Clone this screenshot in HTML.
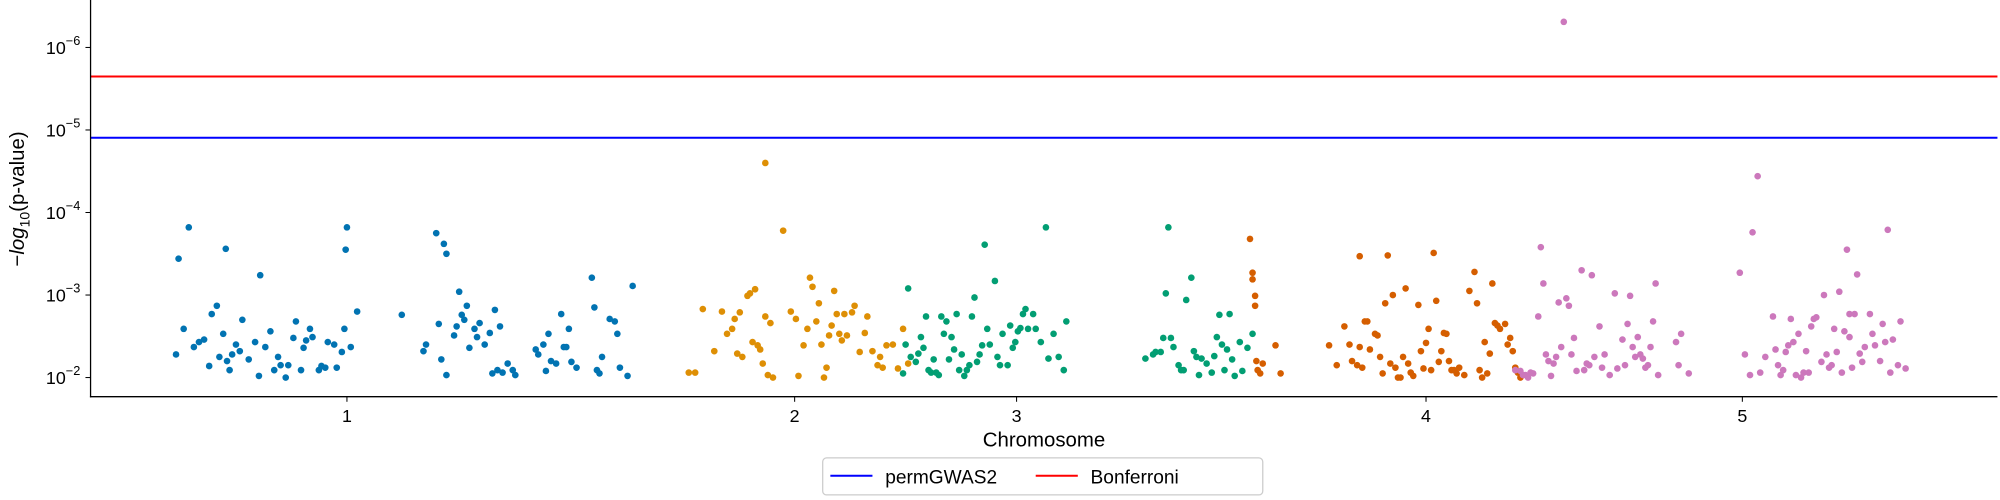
<!DOCTYPE html>
<html><head><meta charset="utf-8"><style>
html,body{margin:0;padding:0;background:#fff;width:2000px;height:500px;overflow:hidden}
svg{font-family:"Liberation Sans","DejaVu Sans",sans-serif;display:block}
</style></head><body>
<svg id="chart" width="2000" height="500" viewBox="0 0 1568 392" preserveAspectRatio="none" xmlns="http://www.w3.org/2000/svg"></svg>
<script>
const chrTickLabels=["1","2","3","4","5"];
const chrTickPos=[201,552,726,1047,1295];
const yTickExps=[2,3,4,5,6];
const thresholdNames=["permGWAS2","Bonferroni"];
const thresholdValues=[4.906,5.648];
const thresholdColors=["#0000ff","#ff0000"];
const chrColors=["#0173b2","#de8f05","#029e73","#d55e00","#cc78bc"];
const chr1Pos=[77,106,201,200,133,209,95,119,161,69,67,73,81,85,89,99,104,107,109,111,114,117,124,129,132,137,141,144,147,149,153,155,159,165,167,169,172,174,179,181,184,186,191,193,197,199,204,93,101,244,261,263,271,277,279,273,275,279,285,287,289,291,293,295,297,301,303,305,309,313,317,321,315,319,323,327,331,333,349,351,355,357,359,361,365,369,371,373,375,377,381,393,395,397,399,401,407,411,413,415,421,425];
const chr1Val=[3.82,3.56,3.82,3.55,3.24,2.80,2.77,2.70,2.68,3.44,2.28,2.59,2.37,2.43,2.46,2.87,2.53,2.20,2.09,2.28,2.40,2.32,2.22,2.43,2.02,2.37,2.56,2.09,2.25,2.15,2.00,2.15,2.48,2.09,2.36,2.45,2.59,2.49,2.09,2.14,2.12,2.43,2.40,2.12,2.31,2.59,2.37,2.14,2.25,2.76,2.32,2.40,3.75,3.62,3.50,2.65,2.22,2.03,2.51,2.62,3.04,2.76,2.70,2.87,2.36,2.59,2.49,2.66,2.40,2.54,2.82,2.62,2.05,2.09,2.06,2.17,2.09,2.03,2.34,2.28,2.40,2.08,2.53,2.20,2.17,2.77,2.37,2.37,2.59,2.19,2.12,3.21,2.85,2.09,2.05,2.25,2.71,2.68,2.53,2.12,2.02,3.11];
const chr2Pos=[469,474,480,489,495,499,503,505,507,509,511,515,517,519,521,523,525,527,529,529,531,533,535,543,549,553,555,559,562,564,566,569,571,573,575,577,579,581,583,585,587,589,591,593,597,599,603,607,609,613,617,619,621,624,629,633,637,641];
const chr2Val=[2.06,2.06,2.83,2.32,2.80,2.53,2.59,2.71,2.29,2.79,2.25,2.99,3.02,2.43,3.07,2.39,2.34,2.17,2.74,4.60,2.03,2.66,2.00,3.78,2.80,2.71,2.02,2.39,2.59,3.21,3.10,2.68,2.90,2.40,2.00,2.12,2.51,2.63,3.05,2.77,2.53,2.45,2.77,2.51,2.79,2.87,2.31,2.54,2.74,2.32,2.15,2.25,2.12,2.39,2.40,2.11,2.59,2.17];
const chr3Pos=[637,639,641,643,647,649,651,653,655,657,659,661,663,665,667,669,671,673,675,677,679,681,683,685,687,689,691,693,695,697,699,701,703,705,709,711,713,715,719,721,723,725,727,729,731,733,735,739,741,745,749,751,755,759,763,765,827,833,835,839,841,843,845,847,849,853,855,857,859,863,865,867,869,871,875,879,881,883,885,887,889,891,893,895,897,901,903,907,911];
const chr3Val=[2.05,2.40,3.08,2.25,2.19,2.29,2.49,2.36,2.74,2.09,2.06,2.22,2.06,2.03,2.74,2.53,2.68,2.22,2.49,2.34,2.77,2.09,2.28,2.02,2.09,2.15,2.74,2.97,2.19,2.28,2.39,3.61,2.59,2.40,3.17,2.25,2.15,2.53,2.15,2.63,2.36,2.43,2.56,2.60,2.77,2.83,2.59,2.77,2.59,2.43,3.82,2.23,2.53,2.25,2.09,2.68,2.23,2.28,2.31,2.31,2.48,3.02,3.82,2.48,2.37,2.15,2.09,2.09,2.94,3.21,2.32,2.25,2.03,2.23,2.17,2.06,2.26,2.49,2.76,2.40,2.09,2.34,2.77,2.22,2.02,2.43,2.08,2.36,2.53];
const chr4Pos=[909,911,911,913,913,914,915,917,919,929,933,971,977,983,987,989,993,995,995,997,999,1001,1003,1007,1009,1011,1013,1015,1017,1019,1021,1023,1025,1027,1029,1031,1033,1035,1037,1041,1043,1045,1047,1049,1051,1053,1055,1057,1059,1061,1063,1065,1067,1069,1071,1073,1077,1081,1085,1087,1089,1091,1093,1095,1097,1099,1101,1103,1105,1109,1111,1113,1115,1117,1119,1121];
const chr4Val=[3.68,3.27,3.19,2.99,2.87,2.20,2.09,2.05,2.17,2.39,2.05,2.39,2.15,2.62,2.40,2.20,2.15,2.37,3.47,2.12,2.68,2.68,2.34,2.53,2.51,2.25,2.05,2.90,3.48,2.17,3.00,2.12,2.00,2.00,2.25,3.08,2.17,2.06,2.02,2.88,2.32,2.11,2.42,2.59,2.09,3.51,2.93,2.19,2.32,2.54,2.53,2.20,2.09,2.09,2.05,2.12,2.03,3.05,3.28,2.90,2.09,2.00,2.43,2.05,2.29,3.14,2.66,2.63,2.59,2.65,2.40,2.48,2.32,2.12,2.06,2.00];
const chr5Pos=[1117,1121,1123,1125,1127,1129,1131,1135,1137,1139,1141,1143,1145,1147,1149,1151,1153,1155,1157,1159,1161,1163,1165,1169,1171,1173,1175,1177,1179,1183,1185,1187,1191,1195,1197,1201,1203,1205,1207,1209,1211,1213,1215,1217,1219,1221,1223,1225,1227,1229,1243,1245,1247,1253,1293,1297,1301,1303,1307,1309,1313,1319,1321,1323,1325,1327,1329,1331,1333,1335,1337,1339,1341,1343,1345,1347,1349,1351,1353,1357,1359,1361,1363,1365,1367,1369,1371,1373,1375,1377,1379,1379,1381,1383,1385,1387,1389,1391,1395,1397,1399,1403,1405,1407,1409,1411,1413,1417,1419,1423];
const chr5Val=[2.09,2.08,2.03,2.03,2.00,2.06,2.05,2.74,3.58,3.14,2.28,2.20,2.02,2.17,2.25,2.91,2.37,6.31,2.96,2.87,2.28,2.48,2.08,3.30,2.09,2.17,2.15,3.24,2.25,2.62,2.12,2.28,2.03,3.02,2.11,2.46,2.15,2.65,2.99,2.37,2.25,2.49,2.28,2.23,2.12,2.15,2.37,2.68,3.14,2.03,2.43,2.15,2.53,2.05,3.27,2.28,2.03,3.76,4.44,2.06,2.25,2.74,2.34,2.15,2.03,2.09,2.31,2.39,2.71,2.43,2.03,2.53,2.00,2.06,2.32,2.06,2.62,2.71,2.73,2.19,3.00,2.28,2.12,2.15,2.59,2.31,3.04,2.06,2.56,3.55,2.77,2.49,2.12,2.77,3.25,2.29,2.19,2.37,2.77,2.53,2.39,2.20,2.65,2.43,3.79,2.06,2.46,2.15,2.68,2.11];

const NS="http://www.w3.org/2000/svg";
const svg=document.getElementById('chart');
const L=71,R=1566,T=0,B=311;
const xs=p=>L+p*(R-L)/1495;
const ys=v=>296-(v-2)*64.7;
function mk(tag,attrs,parent){const e=document.createElementNS(NS,tag);for(const k in attrs)e.setAttribute(k,attrs[k]);(parent||svg).appendChild(e);return e;}

thresholdValues.forEach((v,i)=>{
  const l=mk('line',{x1:L,x2:R,y1:ys(v),y2:ys(v),stroke:thresholdColors[i],'stroke-width':1.6});
  
  
});

const series=[[chr1Pos,chr1Val],[chr2Pos,chr2Val],[chr3Pos,chr3Val],[chr4Pos,chr4Val],[chr5Pos,chr5Val]];
series.forEach((s,ci)=>{
  const g=mk('g',{fill:chrColors[ci]});
  
  
  s[0].forEach((p,j)=>{
    const c=mk('circle',{cx:xs(p),cy:ys(s[1][j]),r:2.6},g);
    
    
  });
});

const ax=mk('line',{x1:L,x2:L,y1:T,y2:B+0.5,stroke:'#000','stroke-width':1});


const bx=mk('line',{x1:L-0.5,x2:R,y1:B,y2:B,stroke:'#000','stroke-width':1});



yTickExps.forEach(e=>{
  const y=ys(e);
  const t=mk('line',{x1:L-4,x2:L,y1:y,y2:y,stroke:'#000','stroke-width':0.8});
  
  
  const tx=mk('text',{x:L-8,y:y+5,'text-anchor':'end','font-size':14});
  
  
  tx.textContent='10';
  const sp=mk('tspan',{dy:-7,'font-size':10},tx);
  sp.textContent='−'+e;
});
chrTickPos.forEach((p,i)=>{
  const x=xs(p);
  const t=mk('line',{x1:x,x2:x,y1:B,y2:B+4,stroke:'#000','stroke-width':0.8});
  
  
  const tx=mk('text',{x:x,y:B+20,'text-anchor':'middle','font-size':14});
  
  
  tx.textContent=chrTickLabels[i];
});
const xl=mk('text',{x:(L+R)/2,y:350,'text-anchor':'middle','font-size':16});


xl.textContent='Chromosome';
const yl=mk('text',{transform:'translate(19,156) rotate(-90)','text-anchor':'middle','font-size':16});


yl.textContent='−';
const yi=mk('tspan',{'font-style':'italic'},yl);yi.textContent='log';
const ysub=mk('tspan',{dy:4,'font-size':11},yl);ysub.textContent='10';
const yr=mk('tspan',{dy:-4},yl);yr.textContent='(p-value)';

const lg=mk('g',{});


mk('rect',{x:645,y:359,width:345,height:29,rx:3,fill:'#fff',stroke:'#ccc','stroke-width':1},lg);
const entries=[[651,thresholdNames[0],thresholdColors[0]],[812,thresholdNames[1],thresholdColors[1]]];
entries.forEach(([x,n,c])=>{
  const eg=mk('g',{},lg);
  
  
  mk('line',{x1:x,x2:x+33,y1:373,y2:373,stroke:c,'stroke-width':1.6},eg);
  const t=mk('text',{x:x+43,y:379,'font-size':15},eg);t.textContent=n;
});
</script>
</body></html>
